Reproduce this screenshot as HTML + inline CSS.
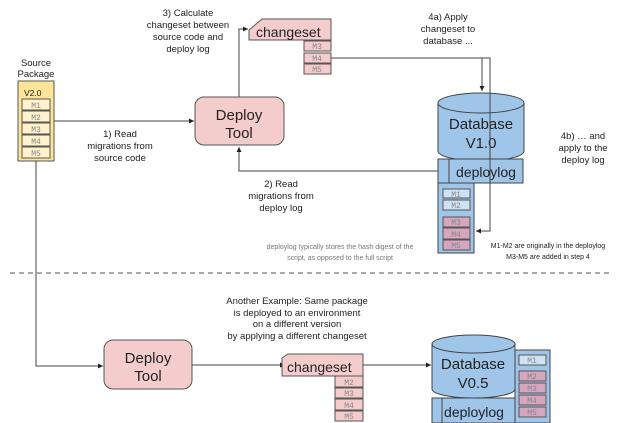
<!DOCTYPE html>
<html><head><meta charset="utf-8"><style>body{margin:0;background:#fff}svg{display:block}text{font-family:"Liberation Sans",sans-serif;fill:#222}.m{font-family:"Liberation Mono",monospace;font-size:8px;fill:#888}</style></head><body>
<svg width="623" height="423" viewBox="0 0 623 423" xmlns="http://www.w3.org/2000/svg">
<defs><marker id="a" markerWidth="6" markerHeight="6" refX="5" refY="3" orient="auto"><path d="M0,0.5 L5,3 L0,5.5z" fill="#222"/></marker></defs>
<g stroke="#444" stroke-width="1" fill="none">
<!-- connectors top -->
<path d="M54,121 H194" marker-end="url(#a)"/>
<path d="M239,97 V29 H248" marker-end="url(#a)"/>
<path d="M331,58 H490 V231 H476" marker-end="url(#a)"/>
<path d="M482,58 V91" marker-end="url(#a)"/>
<path d="M438,171 H239 V147" marker-end="url(#a)"/>
<!-- bottom connectors -->
<path d="M36,161 V366 H103" marker-end="url(#a)"/>
<path d="M192,365 H285" marker-end="url(#a)"/>
<path d="M363,365 H431" marker-end="url(#a)"/>
<line x1="10" y1="273" x2="612" y2="273" stroke-dasharray="5,4" stroke="#555"/>
</g>
<!-- source package -->
<rect x="18" y="81" width="36" height="80" fill="#ffe599" stroke="#555"/>
<text x="24" y="96" font-size="8.5">V2.0</text>
<g fill="#fff2cc" stroke="#555">
<rect x="22" y="99" width="28" height="11"/><rect x="22" y="111" width="28" height="11"/><rect x="22" y="123" width="28" height="11"/><rect x="22" y="135" width="28" height="11"/><rect x="22" y="147" width="28" height="11"/></g>
<g class="m" text-anchor="middle"><text x="36" y="108" class="m">M1</text><text x="36" y="120" class="m">M2</text><text x="36" y="132" class="m">M3</text><text x="36" y="144" class="m">M4</text><text x="36" y="156" class="m">M5</text></g>
<text x="36" y="66" font-size="9.5" text-anchor="middle">Source</text>
<text x="36" y="77" font-size="9.5" text-anchor="middle">Package</text>
<!-- deploy tool top -->
<rect x="195" y="97" width="89" height="48" rx="9" fill="#f4cccc" stroke="#555"/>
<text x="239" y="120" font-size="15" text-anchor="middle">Deploy</text>
<text x="239" y="138" font-size="15" text-anchor="middle">Tool</text>
<!-- changeset top -->
<path d="M249,30 L262,19 H331 V40 H249z" fill="#f4cccc" stroke="#555"/>
<text x="256" y="37" font-size="14">changeset</text>
<g fill="#f4cccc" stroke="#555"><rect x="304" y="41" width="27" height="10"/><rect x="304" y="53" width="27" height="10"/><rect x="304" y="64" width="27" height="10"/></g>
<g text-anchor="middle"><text x="317" y="49" class="m">M3</text><text x="317" y="61" class="m">M4</text><text x="317" y="72" class="m">M5</text></g>
<!-- DB top -->
<path d="M438,103 V151 A43,10 0 0 0 524,151 V103" fill="#9fc5e8" stroke="#444"/>
<ellipse cx="481" cy="103" rx="43" ry="10" fill="#9fc5e8" stroke="#444"/>
<text x="481" y="129" font-size="15" text-anchor="middle">Database</text>
<text x="481" y="148" font-size="15" text-anchor="middle">V1.0</text>
<rect x="438" y="159" width="85" height="24" fill="#9fc5e8" stroke="#444"/>
<line x1="449" y1="159" x2="449" y2="183" stroke="#444"/>
<text x="486" y="177" font-size="14" text-anchor="middle">deploylog</text>
<rect x="438" y="183" width="36" height="70" fill="#9fc5e8" stroke="#444"/>
<g stroke="#555"><rect x="443" y="189" width="27" height="9" fill="#cfe2f3"/><rect x="443" y="200" width="27" height="10" fill="#cfe2f3"/><rect x="443" y="217" width="27" height="10" fill="#d5a6bd"/><rect x="443" y="228" width="27" height="11" fill="#d5a6bd"/><rect x="443" y="240" width="27" height="10" fill="#d5a6bd"/></g>
<g text-anchor="middle"><text x="456" y="197" class="m">M1</text><text x="456" y="208" class="m">M2</text><text x="456" y="225" class="m">M3</text><text x="456" y="237" class="m">M4</text><text x="456" y="248" class="m">M5</text></g>
<path d="M490,58 V231" stroke="#444" fill="none"/>
<!-- labels -->
<g font-size="9.5" text-anchor="middle">
<text x="120" y="137">1) Read</text><text x="120" y="149">migrations from</text><text x="120" y="161">source code</text>
<text x="281" y="187">2) Read</text><text x="281" y="199">migrations from</text><text x="281" y="211">deploy log</text>
<text x="188" y="16">3) Calculate</text><text x="188" y="28">changeset between</text><text x="188" y="40">source code and</text><text x="188" y="52">deploy log</text>
<text x="448" y="20">4a) Apply</text><text x="448" y="32">changeset to</text><text x="448" y="44">database ...</text>
<text x="583" y="139">4b) … and</text><text x="583" y="151">apply to the</text><text x="583" y="163">deploy log</text>
<text x="297" y="304">Another Example: Same package</text><text x="297" y="316">is deployed to an environment</text><text x="297" y="327">on a different version</text><text x="297" y="339">by applying a different changeset</text>
</g>
<g font-size="7" text-anchor="middle"><text x="340" y="249" style="fill:#777">deploylog typically stores the hash digest of the</text><text x="340" y="260" style="fill:#777">script, as opposed to the full script</text>
<text x="548" y="248">M1-M2 are originally in the deploylog</text><text x="548" y="259">M3-M5 are added in step 4</text></g>
<!-- bottom deploy tool -->
<rect x="104" y="340" width="88" height="49" rx="9" fill="#f4cccc" stroke="#555"/>
<text x="148" y="363" font-size="15" text-anchor="middle">Deploy</text>
<text x="148" y="381" font-size="15" text-anchor="middle">Tool</text>
<!-- bottom changeset -->
<path d="M282,358 L288,354 H363 V376 H282z" fill="#f4cccc" stroke="#555"/>
<text x="287" y="372" font-size="14">changeset</text>
<g fill="#f4cccc" stroke="#555"><rect x="335" y="376" width="28" height="11"/><rect x="335" y="388" width="28" height="10"/><rect x="335" y="399" width="28" height="11"/><rect x="335" y="411" width="28" height="10"/></g>
<g text-anchor="middle"><text x="349" y="385" class="m">M2</text><text x="349" y="396" class="m">M3</text><text x="349" y="408" class="m">M4</text><text x="349" y="419" class="m">M5</text></g>
<!-- bottom DB -->
<path d="M432,344 V389 A41.5,9 0 0 0 515,389 V344" fill="#9fc5e8" stroke="#444"/>
<ellipse cx="473.5" cy="344" rx="41.5" ry="9" fill="#9fc5e8" stroke="#444"/>
<text x="473" y="369" font-size="15" text-anchor="middle">Database</text>
<text x="473" y="388" font-size="15" text-anchor="middle">V0.5</text>
<rect x="515" y="350" width="35" height="73" fill="#9fc5e8" stroke="#444"/>
<g stroke="#555"><rect x="519" y="355" width="27" height="10" fill="#cfe2f3"/><rect x="519" y="371" width="27" height="10" fill="#d5a6bd"/><rect x="519" y="383" width="27" height="10" fill="#d5a6bd"/><rect x="519" y="395" width="27" height="10" fill="#d5a6bd"/><rect x="519" y="407" width="27" height="10" fill="#d5a6bd"/></g>
<g text-anchor="middle"><text x="532" y="363" class="m">M1</text><text x="532" y="379" class="m">M2</text><text x="532" y="391" class="m">M3</text><text x="532" y="403" class="m">M4</text><text x="532" y="415" class="m">M5</text></g>
<rect x="432" y="398" width="83" height="25" fill="#9fc5e8" stroke="#444"/>
<line x1="442" y1="398" x2="442" y2="423" stroke="#444"/>
<text x="474" y="417" font-size="14" text-anchor="middle">deploylog</text>
</svg>
</body></html>
